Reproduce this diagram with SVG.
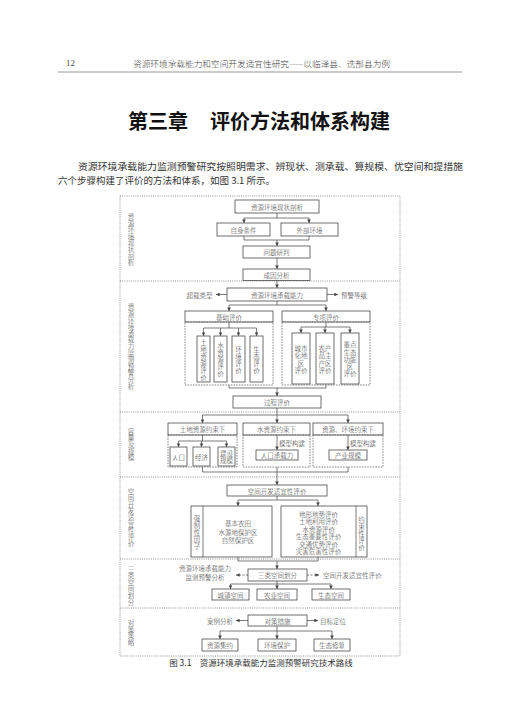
<svg xmlns="http://www.w3.org/2000/svg" width="520" height="728" viewBox="0 0 520 728">
<style>
.b{fill:#fff;stroke:#4a4a4a;stroke-width:0.8}
.d{fill:none;stroke:#555;stroke-width:0.7;stroke-dasharray:1.6 1.1}
.f{fill:none;stroke:#777;stroke-width:0.8;stroke-dasharray:1 1.2}
.c{fill:none;stroke:#444;stroke-width:0.7}
.cd{fill:none;stroke:#444;stroke-width:0.7;stroke-dasharray:2 1.5}
.a{marker-end:url(#ah)}
.t{font-family:"Noto Sans CJK SC","Noto Sans",sans-serif;font-size:6.5px;font-weight:300;fill:#333;text-anchor:middle;dominant-baseline:central}
.s{text-anchor:start}
.g{fill:#444}
</style>
<defs>
<marker id="ah" viewBox="0 0 6 6" refX="6" refY="3" markerWidth="3.6" markerHeight="3.6" markerUnits="userSpaceOnUse" orient="auto"><path d="M0,0 L6,3 L0,6 z" fill="#444"/></marker>
</defs>
<rect x="0" y="0" width="520" height="728" fill="#fff"/>

<g id="page">
<text x="66" y="63" font-family="Liberation Serif,serif" font-size="9" fill="#444" dominant-baseline="central">12</text>
<text x="133" y="63" class="t s" style="font-size:8.5px;fill:#444" textLength="257" lengthAdjust="spacingAndGlyphs">资源环境承载能力和空间开发适宜性研究——以临泽县、迭部县为例</text>
<line x1="58" y1="72" x2="462" y2="72" stroke="#999" stroke-width="1.2"/>
<text x="128" y="120" class="t s" style="font-size:20px;font-weight:bold;fill:#111">第三章</text>
<text x="210" y="120" class="t s" style="font-size:20px;font-weight:bold;fill:#111" textLength="180">评价方法和体系构建</text>
<text x="78" y="166" class="t s" style="font-size:9.5px;font-weight:normal;fill:#333" textLength="385" lengthAdjust="spacingAndGlyphs">资源环境承载能力监测预警研究按照明需求、辨现状、测承载、算规模、优空间和提措施</text>
<text x="58" y="180" class="t s" style="font-size:9.5px;font-weight:normal;fill:#333">六个步骤构建了评价的方法和体系，如图 3.1 所示。</text>
<text x="261" y="662" class="t" style="font-size:8.5px;font-weight:normal;fill:#333">图 3.1　资源环境承载能力监测预警研究技术路线</text>
</g>

<g id="frame">
<rect x="120" y="196" width="280" height="460" class="f"/>
<line x1="120" y1="281" x2="400" y2="281" class="f"/>
<line x1="120" y1="412" x2="400" y2="412" class="f"/>
<line x1="120" y1="477" x2="400" y2="477" class="f"/>
<line x1="120" y1="559" x2="400" y2="559" class="f"/>
<line x1="120" y1="608" x2="400" y2="608" class="f"/>
</g>

<g id="section-labels">
<text class="t g"><tspan x="131" y="215.9">资</tspan><tspan x="131" y="222.5">源</tspan><tspan x="131" y="229.1">环</tspan><tspan x="131" y="235.7">境</tspan><tspan x="131" y="242.3">现</tspan><tspan x="131" y="248.9">状</tspan><tspan x="131" y="255.5">剖</tspan><tspan x="131" y="262.1">析</tspan></text>
<text class="t g"><tspan x="131" y="306.4">资</tspan><tspan x="131" y="313">源</tspan><tspan x="131" y="319.6">环</tspan><tspan x="131" y="326.2">境</tspan><tspan x="131" y="332.8">承</tspan><tspan x="131" y="339.4">载</tspan><tspan x="131" y="346">力</tspan><tspan x="131" y="352.6">监</tspan><tspan x="131" y="359.2">测</tspan><tspan x="131" y="365.8">预</tspan><tspan x="131" y="372.4">警</tspan><tspan x="131" y="379">分</tspan><tspan x="131" y="385.6">析</tspan></text>
<text class="t g"><tspan x="131" y="430.8">容</tspan><tspan x="131" y="437.4">量</tspan><tspan x="131" y="444">及</tspan><tspan x="131" y="450.6">规</tspan><tspan x="131" y="457.2">模</tspan></text>
<text class="t g"><tspan x="131" y="490.6">空</tspan><tspan x="131" y="497.2">间</tspan><tspan x="131" y="503.8">开</tspan><tspan x="131" y="510.4">发</tspan><tspan x="131" y="517">适</tspan><tspan x="131" y="523.6">宜</tspan><tspan x="131" y="530.2">性</tspan><tspan x="131" y="536.8">评</tspan><tspan x="131" y="543.4">价</tspan></text>
<text class="t g"><tspan x="131" y="568.5">三</tspan><tspan x="131" y="575.1">类</tspan><tspan x="131" y="581.7">空</tspan><tspan x="131" y="588.3">间</tspan><tspan x="131" y="594.9">划</tspan><tspan x="131" y="601.5">分</tspan></text>
<text class="t g"><tspan x="131" y="622.1">对</tspan><tspan x="131" y="628.7">策</tspan><tspan x="131" y="635.3">策</tspan><tspan x="131" y="641.9">略</tspan></text>
</g>

<g id="connectors">
<path class="c" d="M277,213 V218 M244,218 H309"/>
<path class="c a" d="M244,218 V223"/>
<path class="c a" d="M309,218 V223"/>
<path class="c" d="M244,236 V240 M309,236 V240 M244,240 H309"/>
<path class="c a" d="M277,240 V246"/>
<path class="c a" d="M277,258 V269"/>
<path class="c a" d="M277,280.5 V288"/>
<path class="c a" d="M227,294.5 H216"/>
<path class="c a" d="M327,294.5 H338"/>
<path class="c" d="M277,301 V305 M229,305 H326"/>
<path class="c a" d="M229,305 V311"/>
<path class="c a" d="M326,305 V311"/>
<path class="c" d="M229,322 V328 M203.5,328 H256.5"/>
<path class="c a" d="M203.5,328 V336"/>
<path class="c a" d="M220.5,328 V336"/>
<path class="c a" d="M238.5,328 V336"/>
<path class="c a" d="M256.5,328 V336"/>
<path class="c" d="M326,322 V327 M301,327 H350"/>
<path class="c a" d="M301,327 V333"/>
<path class="c a" d="M325,327 V333"/>
<path class="c a" d="M350,327 V333"/>
<path class="c" d="M229,385 V388 M326,385 V388 M229,388 H326"/>
<path class="c a" d="M277,388 V396"/>
<path class="c" d="M277,408 V415 M202.5,415 H348"/>
<path class="c a" d="M202.5,415 V423"/>
<path class="c a" d="M277,415 V423"/>
<path class="c a" d="M348,415 V423"/>
<path class="c" d="M202.5,435 V441 M178.5,441 H226.5"/>
<path class="c a" d="M178.5,441 V447"/>
<path class="c a" d="M201.5,441 V447"/>
<path class="c a" d="M226.5,441 V447"/>
<path class="c a" d="M277,435 V450"/>
<path class="c a" d="M348,435 V450"/>
<path class="c" d="M202.5,467 V472 M348,467 V472 M202.5,472 H348 M277,467 V472"/>
<path class="c a" d="M277,472 V485"/>
<path class="c" d="M277,496 V500 M238,500 H318"/>
<path class="c a" d="M238,500 V506"/>
<path class="c a" d="M318,500 V506"/>
<path class="c" d="M238,557 V561 M318,557 V561 M238,561 H318"/>
<path class="c a" d="M277,561 V569"/>
<path class="cd a" d="M248,575 H236"/>
<path class="cd a" d="M307,575 H319"/>
<path class="c" d="M277,581 V584 M230.5,584 H331"/>
<path class="c a" d="M230.5,584 V589"/>
<path class="c a" d="M277,584 V589"/>
<path class="c a" d="M331,584 V589"/>
<path class="c a" d="M248,620.5 H236"/>
<path class="c a" d="M307,620.5 H318"/>
<path class="c" d="M277,626 V631 M220,631 H332"/>
<path class="c a" d="M220,631 V639"/>
<path class="c a" d="M277,631 V639"/>
<path class="c a" d="M332,631 V639"/>
</g>

<g id="n-xzpx"><rect class="b" x="235" y="200" width="84" height="13"/><text class="t" x="277" y="206.5">资源环境现状剖析</text></g>
<g id="n-zstj"><rect class="b" x="217" y="223" width="53" height="13"/><text class="t" x="243.5" y="229.5">自身条件</text></g>
<g id="n-wbhj"><rect class="b" x="281" y="223" width="57" height="13"/><text class="t" x="309.5" y="229.5">外部环境</text></g>
<g id="n-wtyp"><rect class="b" x="243" y="246" width="67" height="12"/><text class="t" x="276.5" y="252">问题研判</text></g>
<g id="n-cyfx"><rect class="b" x="243" y="269" width="67" height="11.5"/><text class="t" x="276.5" y="274.8">成因分析</text></g>

<g id="n-czlx"><text class="t" x="199.5" y="294.5">超载类型</text></g>
<g id="n-yjdj"><text class="t" x="354" y="294.5">预警等级</text></g>
<g id="n-czll"><rect class="b" x="227" y="288" width="100" height="13"/><text class="t" x="277" y="294.5">资源环境承载能力</text></g>
<g id="n-jcpj"><rect class="b" x="185" y="311" width="88" height="11"/><text class="t" x="229" y="316.5">基础评价</text><rect class="d" x="185" y="322" width="88" height="63"/></g>
<g id="n-zxpj"><rect class="b" x="282" y="311" width="88" height="11"/><text class="t" x="326" y="316.5">专项评价</text><rect class="d" x="282" y="322" width="88" height="63"/></g>
<g id="n-tdzy"><rect class="b" x="197" y="336" width="13" height="46"/><text class="t"><tspan x="203.5" y="341.5">土</tspan><tspan x="203.5" y="348.5">地</tspan><tspan x="203.5" y="355.5">资</tspan><tspan x="203.5" y="362.5">源</tspan><tspan x="203.5" y="369.5">评</tspan><tspan x="203.5" y="376.5">价</tspan></text></g>
<g id="n-szy"><rect class="b" x="214" y="336" width="13" height="46"/><text class="t"><tspan x="220.5" y="345">水</tspan><tspan x="220.5" y="352">资</tspan><tspan x="220.5" y="359">源</tspan><tspan x="220.5" y="366">评</tspan><tspan x="220.5" y="373">价</tspan></text></g>
<g id="n-hjpj"><rect class="b" x="232" y="336" width="13" height="46"/><text class="t"><tspan x="238.5" y="348.5">环</tspan><tspan x="238.5" y="355.5">境</tspan><tspan x="238.5" y="362.5">评</tspan><tspan x="238.5" y="369.5">价</tspan></text></g>
<g id="n-stpj"><rect class="b" x="250" y="336" width="13" height="46"/><text class="t"><tspan x="256.5" y="348.5">生</tspan><tspan x="256.5" y="355.5">态</tspan><tspan x="256.5" y="362.5">评</tspan><tspan x="256.5" y="369.5">价</tspan></text></g>
<g id="n-cshq"><rect class="b" x="292" y="333" width="18" height="51"/><text class="t"><tspan x="301" y="347.5">城市</tspan><tspan x="301" y="355">化地</tspan><tspan x="301" y="362.5">区</tspan><tspan x="301" y="370">评价</tspan></text></g>
<g id="n-ncpq"><rect class="b" x="316" y="333" width="18" height="51"/><text class="t"><tspan x="325" y="347.5">农产</tspan><tspan x="325" y="355">品主</tspan><tspan x="325" y="362.5">产区</tspan><tspan x="325" y="370">评价</tspan></text></g>
<g id="n-zdst"><rect class="b" x="341" y="333" width="18" height="51"/><text class="t"><tspan x="350" y="344">重点</tspan><tspan x="350" y="351.5">生态</tspan><tspan x="350" y="359">功能</tspan><tspan x="350" y="366">区</tspan><tspan x="350" y="373">评价</tspan></text></g>
<g id="n-gcpj"><rect class="b" x="233" y="396" width="88" height="12"/><text class="t" x="277" y="402">过程评价</text></g>

<g id="n-tdys"><rect class="b" x="168" y="423" width="69" height="12"/><text class="t" x="202.5" y="429">土地资源约束下</text><rect class="d" x="168" y="435" width="69" height="32"/></g>
<g id="n-szys"><rect class="b" x="243" y="423" width="67" height="12"/><text class="t" x="276.5" y="429">水资源约束下</text><rect class="d" x="243" y="435" width="67" height="32"/></g>
<g id="n-zhys"><rect class="b" x="313" y="423" width="70" height="12"/><text class="t" x="348" y="429">资源、环境约束下</text><rect class="d" x="313" y="435" width="70" height="32"/></g>
<g id="n-rk"><rect class="b" x="170" y="447" width="17" height="19"/><text class="t" x="178.5" y="456.5">人口</text></g>
<g id="n-jj"><rect class="b" x="193" y="447" width="17" height="19"/><text class="t" x="201.5" y="456.5">经济</text></g>
<g id="n-jsgm"><rect class="b" x="218" y="447" width="17" height="19"/><text class="t"><tspan x="226.5" y="452.8">建设</tspan><tspan x="226.5" y="460.3">规模</tspan></text></g>
<g id="n-rkczl"><text class="t s" x="279" y="442.5">模型构建</text><rect class="b" x="256" y="450" width="42" height="10"/><text class="t" x="277" y="455">人口承载力</text></g>
<g id="n-cygm"><text class="t s" x="350" y="442.5">模型构建</text><rect class="b" x="329" y="450" width="38" height="10"/><text class="t" x="348" y="455">产业规模</text></g>

<g id="n-kjkf"><rect class="b" x="227" y="485" width="100" height="11"/><text class="t" x="277" y="490.5">空间开发适宜性评价</text></g>
<g id="n-qzx"><rect class="b" x="191" y="506" width="81" height="51"/><line x1="203" y1="506" x2="203" y2="557" class="c"/><text class="t"><tspan x="197" y="517.5">强</tspan><tspan x="197" y="524.5">制</tspan><tspan x="197" y="531.5">性</tspan><tspan x="197" y="538.5">因</tspan><tspan x="197" y="545.5">子</tspan></text><text class="t"><tspan x="238" y="523">基本农田</tspan><tspan x="238" y="531.5">水源地保护区</tspan><tspan x="238" y="540">自然保护区</tspan></text></g>
<g id="n-ysx"><rect class="b" x="281" y="506" width="86" height="51"/><line x1="356" y1="506" x2="356" y2="557" class="c"/><text class="t"><tspan x="361.5" y="519">约</tspan><tspan x="361.5" y="526">束</tspan><tspan x="361.5" y="533">性</tspan><tspan x="361.5" y="540">评</tspan><tspan x="361.5" y="547">价</tspan></text><text class="t"><tspan x="318.5" y="513.5">地形地势评价</tspan><tspan x="318.5" y="521">土地利用评价</tspan><tspan x="318.5" y="528.5">水资源评价</tspan><tspan x="318.5" y="536">生态重要性评价</tspan><tspan x="318.5" y="543.5">交通优势评价</tspan><tspan x="318.5" y="551">灾害危害性评价</tspan></text></g>

<g id="n-slkj"><rect class="b" x="248" y="569" width="59" height="12"/><text class="t" x="277.5" y="575">三类空间划分</text></g>
<g id="n-jcyj"><text class="t"><tspan x="205" y="568">资源环境承载能力</tspan><tspan x="205" y="576.5">监测预警分析</tspan></text></g>
<g id="n-kfsy"><text class="t s" x="323" y="575">空间开发适宜性评价</text></g>
<g id="n-czkj"><rect class="b" x="212" y="589" width="37" height="11"/><text class="t" x="230.5" y="594.5">城镇空间</text></g>
<g id="n-nykj"><rect class="b" x="257" y="589" width="40" height="11"/><text class="t" x="277" y="594.5">农业空间</text></g>
<g id="n-stkj"><rect class="b" x="312" y="589" width="38" height="11"/><text class="t" x="331" y="594.5">生态空间</text></g>

<g id="n-dccs"><rect class="b" x="248" y="615" width="59" height="11"/><text class="t" x="277.5" y="620.5">对策措施</text></g>
<g id="n-alfx"><text class="t" x="220" y="620.5">案例分析</text></g>
<g id="n-mbdw"><text class="t s" x="320" y="620.5">目标定位</text></g>
<g id="n-zyjy"><rect class="b" x="202" y="639" width="36" height="12"/><text class="t" x="220" y="645">资源集约</text></g>
<g id="n-hjbh"><rect class="b" x="258" y="639" width="38" height="12"/><text class="t" x="277" y="645">环境保护</text></g>
<g id="n-stxf"><rect class="b" x="314" y="639" width="36" height="12"/><text class="t" x="332" y="645">生态修复</text></g>
</svg>
